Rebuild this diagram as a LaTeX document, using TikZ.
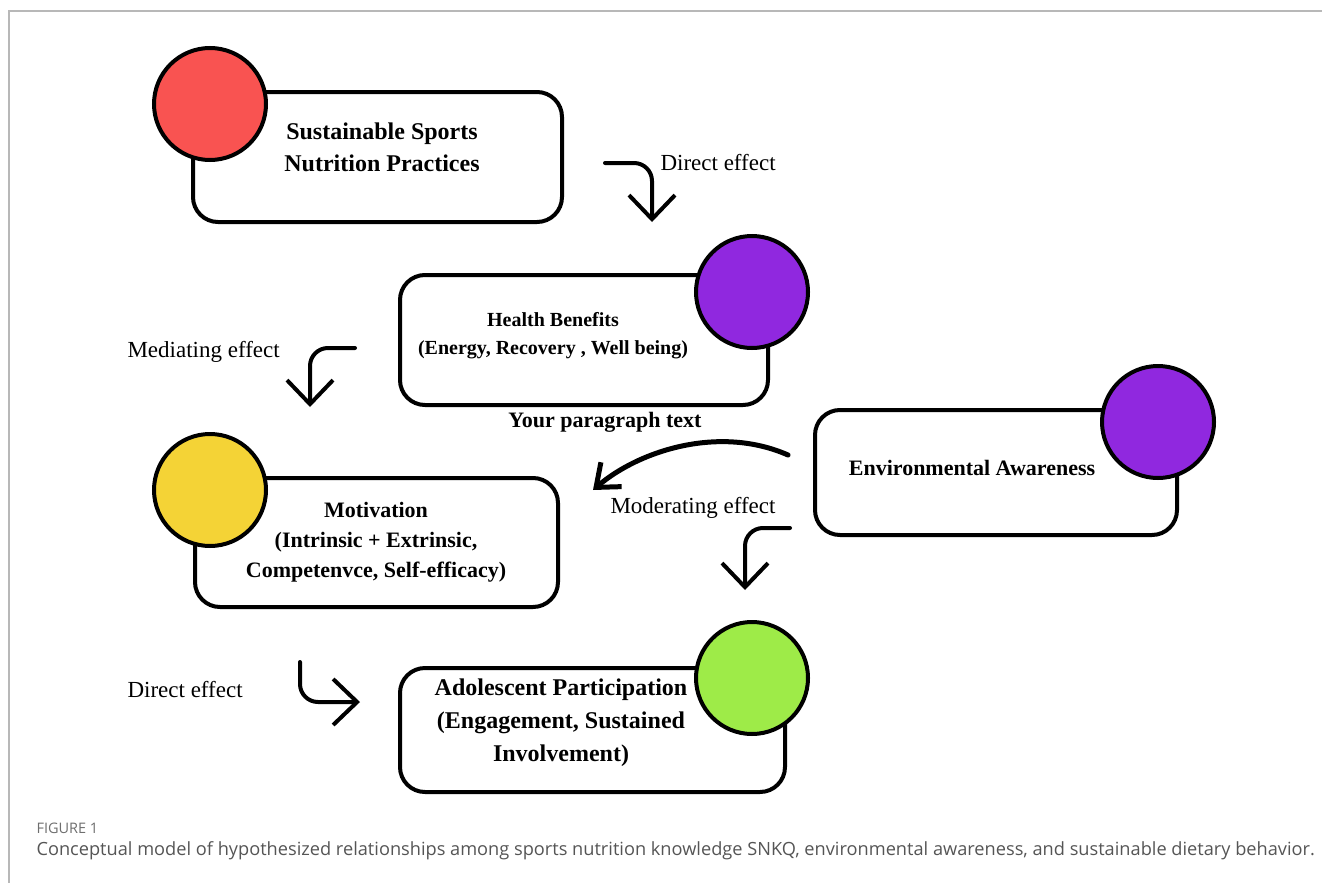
\documentclass[tikz,border=0pt]{standalone}
\usepackage{fontspec}
\setmainfont{Liberation Serif}
\newfontfamily\capfont{Open Sans}
\usepackage{tikz}
\usetikzlibrary{arrows.meta, positioning}
\usepackage{xcolor}
\definecolor{dotRed}   {HTML}{F95351}
\definecolor{dotPurple}{HTML}{9028DF}
\definecolor{dotYellow}{HTML}{F4D336}
\definecolor{dotGreen} {HTML}{9EEB48}
\definecolor{capGray}  {HTML}{555555}
\definecolor{frameGray}{HTML}{B8B8B8}
\tikzset{
  box/.style  = {rectangle, draw=black, line width=4pt, rounded corners=25pt,
                 fill=white, inner sep=0pt},
  dot/.style  = {circle, draw=black, line width=4pt, minimum size=112pt,
                 inner sep=0pt},
  bent/.style = {line width=4pt, rounded corners=18pt, line cap=round,
                 -{Straight Barb[length=24pt, width=46pt]}},
}

\begin{document}
\begin{tikzpicture}[
  x=1pt, y=-1pt,
  title/.style={font=\bfseries\fontsize{22}{30}\selectfont, align=center},
  effect/.style={font=\fontsize{23}{27}\selectfont, anchor=west},
]
\useasboundingbox (0,0) rectangle (1322,883);

% Frame
\draw[frameGray, line width=2pt] (1322,11) -- (9,11) -- (9,883);

% Boxes
\node[box, minimum width=369pt, minimum height=130pt] (snp) at (377.5,157)   {};
\node[box, minimum width=368pt, minimum height=130pt] (hb)  at (584,340)     {};
\node[box, minimum width=363pt, minimum height=129pt] (mot) at (376.5,542.5) {};
\node[box, minimum width=362pt, minimum height=125pt] (env) at (996,472.5)   {};
\node[box, minimum width=385pt, minimum height=124pt] (ado) at (592.5,730)   {};

% Circles
\node[dot, fill=dotRed]    (snpdot) at (210,104)  {};
\node[dot, fill=dotPurple] (hbdot)  at (752,292)  {};
\node[dot, fill=dotYellow] (motdot) at (210,490)  {};
\node[dot, fill=dotPurple] (envdot) at (1158,422) {};
\node[dot, fill=dotGreen]  (adodot) at (752,678)  {};

% Box texts
\node[title, font=\bfseries\fontsize{24}{32}\selectfont] (snptext) at (382,147)
  {Sustainable Sports\\Nutrition Practices};
\node[title, font=\bfseries\fontsize{20}{28}\selectfont] (hbtext) at (553,336)
  {Health Benefits\\(Energy, Recovery , Well being)};
\node[title] (para) at (605,422) {Your paragraph text};
\node[title] (mottext) at (376,542)
  {Motivation\\(Intrinsic + Extrinsic,\\Competenvce, Self-efficacy)};
\node[title] (envtext) at (972,468) {Environmental Awareness};
\node[title, font=\bfseries\fontsize{24}{33}\selectfont] (adotext) at (561,723)
  {Adolescent Participation\\(Engagement, Sustained\\Involvement)};

% Arrow ends
\coordinate (d1s) at (605,163);  \coordinate (d1e) at (652,222);
\coordinate (mes) at (355,348);  \coordinate (mee) at (310,407);
\coordinate (mos) at (790,528);  \coordinate (moe) at (745,590);
\coordinate (d2s) at (300,662);  \coordinate (d2e) at (360,702);
\coordinate (cvs) at (788,455);  \coordinate (cve) at (593,490);

% Arrows
\draw[bent] (d1s) -| (d1e);
\draw[bent] (mes) -| (mee);
\draw[bent] (mos) -| (moe);
\draw[bent] (d2s) |- (d2e);
\draw[line width=5pt, line cap=round, -{Straight Barb[length=20pt, width=32pt]}]
  (cvs) .. controls (720,425) and (640,450) .. (cve);

% Effect labels
\node[effect] (lbd1) at (657,163) {Direct effect};
\node[effect] (lbme) at (124,352) {Mediating effect};
\node[effect] (lbmo) at (607,508) {Moderating effect};
\node[effect] (lbd2) at (124,690) {Direct effect};

% Caption
\node[anchor=west, font=\capfont\fontsize{14.5}{16}\selectfont, text=capGray!85]
  (fig) at (33,828) {FIGURE 1};
\node[anchor=west, font=\capfont\fontsize{18.2}{21}\selectfont, text=capGray]
  (cap) at (33,851) {Conceptual model of hypothesized relationships among sports nutrition knowledge SNKQ, environmental awareness, and sustainable dietary behavior.};

\end{tikzpicture}
\end{document}
